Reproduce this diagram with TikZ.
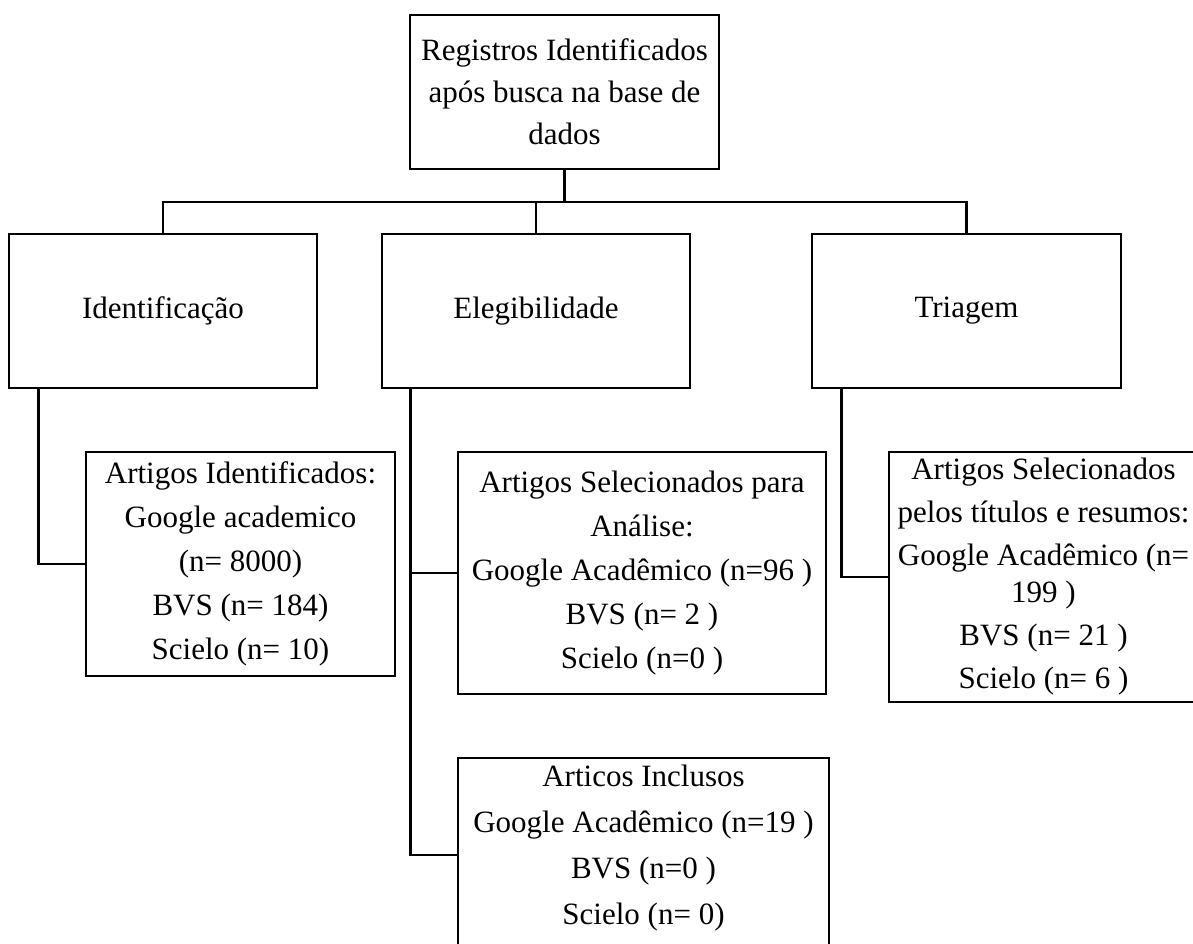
\documentclass[tikz,border=0pt]{standalone}
\usepackage{fontspec}
\setmainfont{Liberation Serif}
\usetikzlibrary{positioning}

\begin{document}
\begin{tikzpicture}[x=1pt, y=-1pt]
    \tikzstyle{box}=[draw, line width=2.6pt, align=center, inner sep=0pt, font=\fontsize{31}{44}\selectfont]
    \tikzstyle{link}=[line width=2.6pt]

    \useasboundingbox (0,0) rectangle (1193,944);

    % Top
    \node[box, minimum width=309, minimum height=154, font=\fontsize{31}{42}\selectfont] (reg) at (564.5,92) {Registros Identificados\\após busca na base de\\dados};

    % Phases
    \node[box, minimum width=308, minimum height=154] (ident) at (163,311) {Identificação};
    \node[box, minimum width=308, minimum height=154] (eleg) at (536,311) {Elegibilidade};
    \node[box, minimum width=309, minimum height=154] (triag) at (966.5,311) {Triagem};

    % Results
    \node[box, minimum width=309, minimum height=224] (artid) at (240.5,564) {Artigos Identificados:\\Google academico\\(n= 8000)\\BVS (n= 184)\\Scielo (n= 10)};
    \node[box, minimum width=368, minimum height=242] (artsel) at (642,573) {Artigos Selecionados para\\Análise:\\Google Acadêmico (n=96 )\\BVS (n= 2 )\\Scielo (n=0 )};
    \node[box, minimum width=309, minimum height=250, font=\fontsize{31}{43}\selectfont] (arttri) at (1043.5,577) {Artigos Selecionados\\pelos títulos e resumos:\\Google Acadêmico (n=\\[-6pt]199 )\\BVS (n= 21 )\\Scielo (n= 6 )};
    \node[box, minimum width=371, minimum height=194] (artinc) at (643.5,855) {};
    \node[align=center, inner sep=0pt, font=\fontsize{31}{46}\selectfont, below=8pt of artinc.north] (artinctxt) {Articos Inclusos\\Google Acadêmico (n=19 )\\BVS (n=0 )\\Scielo (n= 0)};

    % Connections
    \coordinate (bus) at (564.5,202);
    \draw[link] (reg.south) -- (bus);
    \draw[link] (ident.north) |- (triag.north |- bus) -- (triag.north);
    \draw[link] (eleg.north) -- (eleg.north |- bus);

    \coordinate (identdown) at ([xshift=31pt]ident.south west);
    \coordinate (elegdown) at ([xshift=30pt]eleg.south west);
    \coordinate (triagdown) at ([xshift=31pt]triag.south west);
    \draw[link] (identdown) |- (artid.west);
    \draw[link] (elegdown) |- (artinc.west);
    \draw[link] (elegdown |- artsel.west) -- (artsel.west);
    \draw[link] (triagdown) |- (arttri.west);
\end{tikzpicture}
\end{document}
